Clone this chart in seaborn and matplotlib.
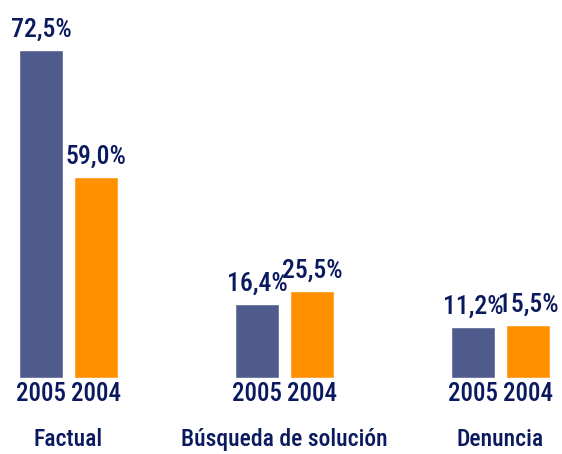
import numpy as np
import pandas as pd
import matplotlib
matplotlib.use("Agg")
from matplotlib import pyplot as plt
from matplotlib import transforms
import seaborn as sns
sns.set_style("white")

categories = ["Factual", "Búsqueda de solución", "Denuncia"]
years = ["2005", "2004"]
values_2005 = [72.5, 16.4, 11.2]
values_2004 = [59.0, 25.5, 15.5]

palette = {"2005": "#4F5B8C", "2004": "#FF9100"}
text_color = "#0B1A5E"
font = dict(family=["Roboto Condensed", "DejaVu Sans Condensed", "Roboto", "DejaVu Sans"],
            fontweight="medium", color=text_color)

df = pd.DataFrame({
    "category": categories * 2,
    "year": ["2005"] * 3 + ["2004"] * 3,
    "value": values_2005 + values_2004,
})

fig = plt.figure(figsize=(5.62, 4.54), dpi=100)
ax = fig.add_axes([0, 0, 1, 1])
ax2 = ax.twinx()

# each year sits on its own y scale, as in the original chart
for axis, year, ylim in [(ax, "2005", (-16.8, 83.6)), (ax2, "2004", (-22.3, 110.8))]:
    sns.barplot(data=df, x="category", y="value", hue="year", hue_order=years,
                order=categories, palette=palette, width=0.51, gap=0.2,
                saturation=1, legend=False, ax=axis)
    # containers follow hue_order; keep only this year's bars on this axis
    keep = axis.containers[years.index(year)]
    for container in list(axis.containers):
        if container is not keep:
            container.remove()
    axis.set_ylim(*ylim)
    axis.set_xlim(-0.317, 2.285)
    axis.axis("off")
    yr_trans = transforms.blended_transform_factory(axis.transData, fig.transFigure)
    axis.bar_label(keep, labels=[f"{v:.1f}%".replace(".", ",") for v in keep.datavalues],
                   padding=6, fontsize=18.5, **font)
    for patch in keep:
        axis.text(patch.get_x() + patch.get_width() / 2, 0.132, year, transform=yr_trans,
                  ha="center", va="center", fontsize=18, **font)

cat_trans = transforms.blended_transform_factory(ax.transData, fig.transFigure)
for i, cat in enumerate(categories):
    ax.text(i, 0.033, cat, transform=cat_trans, ha="center", va="center", fontsize=17, **font)

fig.savefig("out.png", dpi=100)
